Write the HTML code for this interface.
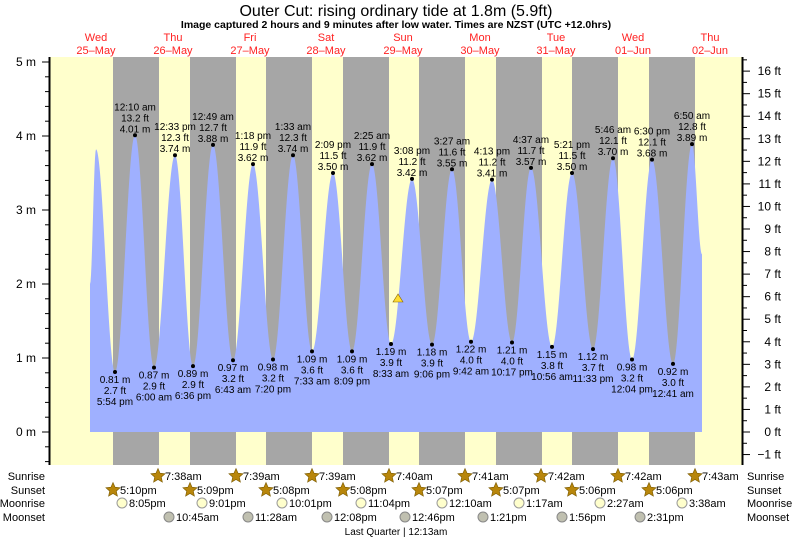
<!DOCTYPE html>
<html><head><meta charset="utf-8"><style>
body{margin:0;background:#fff;}
svg text{font-family:"Liberation Sans",sans-serif;}
</style></head><body>
<svg id="s" width="793" height="539" xmlns="http://www.w3.org/2000/svg">
<rect x="50" y="57" width="693" height="408" fill="#ffffcc"/>
<g fill="#a6a6a6">
<rect x="113" y="57" width="46" height="408"/><rect x="190" y="57" width="46" height="408"/>
<rect x="266" y="57" width="46" height="408"/><rect x="343" y="57" width="46" height="408"/>
<rect x="419" y="57" width="46" height="408"/><rect x="496" y="57" width="46" height="408"/>
<rect x="572" y="57" width="46" height="408"/><rect x="649" y="57" width="46" height="408"/>
</g>
<path id="tide" fill="#9fb0ff" d=""/>
<g id="lab" font-size="10" fill="#000" text-anchor="middle"></g>
<polygon points="398,294 393,302 403,302" fill="#ffdd33" stroke="#886600" stroke-width="0.6"/>
<line x1="49.5" y1="57" x2="49.5" y2="465" stroke="#000" stroke-width="2"/>
<line x1="742.5" y1="57" x2="742.5" y2="465" stroke="#000" stroke-width="2"/>
<g id="ax" font-size="12" fill="#000"></g>
<text x="396" y="16" font-size="16" text-anchor="middle">Outer Cut: rising  ordinary tide at 1.8m (5.9ft)</text>
<text x="396" y="28" font-size="10.5" font-weight="bold" text-anchor="middle">Image captured 2 hours and 9 minutes after low water. Times are NZST (UTC +12.0hrs)</text>
<g id="days" font-size="11" fill="#ff2222" text-anchor="middle"></g>
<g id="bot" font-size="11" fill="#000"></g>
<text x="396" y="535" font-size="10" text-anchor="middle">Last Quarter | 12:13am</text>
</svg>
<script>
var NS="http://www.w3.org/2000/svg";
function el(p,t,a,txt){var e=document.createElementNS(NS,t);for(var k in a)e.setAttribute(k,a[k]);if(txt!==undefined)e.textContent=txt;document.getElementById(p).appendChild(e);return e;}
function Y(h){return 432-74*h;}
var ex=[[90,2.0],[96,3.82],[115,0.81],[135,4.01],[154,0.87],[175,3.74],[193,0.89],[213,3.88],[233,0.97],[253,3.62],[273,0.98],[293,3.74],[312,1.09],[333,3.50],[352,1.09],[372,3.62],[391,1.19],[412,3.42],[432,1.18],[452,3.55],[471,1.22],[492,3.41],[512,1.21],[531,3.57],[552,1.15],[572,3.50],[593,1.12],[613,3.70],[632,0.98],[652,3.68],[673,0.92],[692,3.89],[702,2.4]];
var d="M90,432 ";
for(var i=0;i<ex.length-1;i++){var a=ex[i],b=ex[i+1];for(var x=a[0];x<=b[0];x+=0.5){var t=(x-a[0])/(b[0]-a[0]);var h=a[1]+(b[1]-a[1])*(1-Math.cos(Math.PI*t))/2;d+="L"+x+","+Y(h).toFixed(1)+" ";}}
d+="L702,432 Z";document.getElementById("tide").setAttribute("d",d);
var hi=[[135,"12:10 am","13.2 ft","4.01 m",4.01],[175,"12:33 pm","12.3 ft","3.74 m",3.74],[213,"12:49 am","12.7 ft","3.88 m",3.88],[253,"1:18 pm","11.9 ft","3.62 m",3.62],[293,"1:33 am","12.3 ft","3.74 m",3.74],[333,"2:09 pm","11.5 ft","3.50 m",3.50],[372,"2:25 am","11.9 ft","3.62 m",3.62],[412,"3:08 pm","11.2 ft","3.42 m",3.42],[452,"3:27 am","11.6 ft","3.55 m",3.55],[492,"4:13 pm","11.2 ft","3.41 m",3.41],[531,"4:37 am","11.7 ft","3.57 m",3.57],[572,"5:21 pm","11.5 ft","3.50 m",3.50],[613,"5:46 am","12.1 ft","3.70 m",3.70],[652,"6:30 pm","12.1 ft","3.68 m",3.68],[692,"6:50 am","12.8 ft","3.89 m",3.89]];
hi.forEach(function(p){var y=Y(p[4]);el("lab","circle",{cx:p[0],cy:y,r:2});el("lab","text",{x:p[0],y:y-25},p[1]);el("lab","text",{x:p[0],y:y-14},p[2]);el("lab","text",{x:p[0],y:y-3},p[3]);});
var lo=[[115,"0.81 m","2.7 ft","5:54 pm",0.81],[154,"0.87 m","2.9 ft","6:00 am",0.87],[193,"0.89 m","2.9 ft","6:36 pm",0.89],[233,"0.97 m","3.2 ft","6:43 am",0.97],[273,"0.98 m","3.2 ft","7:20 pm",0.98],[312,"1.09 m","3.6 ft","7:33 am",1.09],[352,"1.09 m","3.6 ft","8:09 pm",1.09],[391,"1.19 m","3.9 ft","8:33 am",1.19],[432,"1.18 m","3.9 ft","9:06 pm",1.18],[471,"1.22 m","4.0 ft","9:42 am",1.22],[512,"1.21 m","4.0 ft","10:17 pm",1.21],[552,"1.15 m","3.8 ft","10:56 am",1.15],[593,"1.12 m","3.7 ft","11:33 pm",1.12],[632,"0.98 m","3.2 ft","12:04 pm",0.98],[673,"0.92 m","3.0 ft","12:41 am",0.92]];
lo.forEach(function(p){var y=Y(p[4]);el("lab","circle",{cx:p[0],cy:y,r:2});el("lab","text",{x:p[0],y:y+11},p[1]);el("lab","text",{x:p[0],y:y+22},p[2]);el("lab","text",{x:p[0],y:y+33},p[3]);});
for(var m=-0.4;m<=5.01;m+=0.2){var y=Y(m),maj=Math.abs(m-Math.round(m))<0.01;el("ax","line",{x1:maj?42:45,y1:y,x2:49,y2:y,stroke:"#000","stroke-width":1});if(maj)el("ax","text",{x:36,y:y+4,"text-anchor":"end"},Math.round(m)+" m");}
for(var f=-1.5;f<=16.6;f+=0.5){var y=432-22.555*f,maj=Math.abs(f-Math.round(f))<0.01;if(y<57||y>465)continue;el("ax","line",{x1:743,y1:y,x2:maj?750:747,y2:y,stroke:"#000","stroke-width":1});if(maj)el("ax","text",{x:781,y:y+4,"text-anchor":"end"},(Math.round(f)<0?"\u22121":Math.round(f))+" ft");}
var days=[[96,"Wed","25\u2013May"],[173,"Thu","26\u2013May"],[250,"Fri","27\u2013May"],[326,"Sat","28\u2013May"],[403,"Sun","29\u2013May"],[480,"Mon","30\u2013May"],[556,"Tue","31\u2013May"],[633,"Wed","01\u2013Jun"],[710,"Thu","02\u2013Jun"]];
days.forEach(function(p){el("days","text",{x:p[0],y:41},p[1]);el("days","text",{x:p[0],y:54},p[2]);});
var rows=[["Sunrise",480],["Sunset",494],["Moonrise",507],["Moonset",521]];
rows.forEach(function(r){el("bot","text",{x:45,y:r[1],"text-anchor":"end"},r[0]);el("bot","text",{x:747,y:r[1]},r[0]);});
function star(cx,cy){var pts=[];for(var k=0;k<10;k++){var rr=k%2?3.5:7.5,a=-Math.PI/2+k*Math.PI/5;pts.push((cx+rr*Math.cos(a)).toFixed(1)+","+(cy+rr*Math.sin(a)).toFixed(1));}el("bot","polygon",{points:pts.join(" "),fill:"#b8860b",stroke:"#7a5a00","stroke-width":0.6});}
var sr=[[158,"7:38am"],[236,"7:39am"],[312,"7:39am"],[389,"7:40am"],[465,"7:41am"],[541,"7:42am"],[618,"7:42am"],[695,"7:43am"]];
sr.forEach(function(p){star(p[0],476);el("bot","text",{x:p[0]+7,y:480},p[1]);});
var ss=[[113,"5:10pm"],[190,"5:09pm"],[266,"5:08pm"],[343,"5:08pm"],[419,"5:07pm"],[496,"5:07pm"],[572,"5:06pm"],[649,"5:06pm"]];
ss.forEach(function(p){star(p[0],490);el("bot","text",{x:p[0]+7,y:494},p[1]);});
var mr=[[122,"8:05pm"],[202,"9:01pm"],[282,"10:01pm"],[361,"11:04pm"],[442,"12:10am"],[519,"1:17am"],[600,"2:27am"],[682,"3:38am"]];
mr.forEach(function(p){el("bot","circle",{cx:p[0],cy:503,r:5,fill:"#ffffcc",stroke:"#999"});el("bot","text",{x:p[0]+7,y:507},p[1]);});
var ms=[[169,"10:45am"],[248,"11:28am"],[327,"12:08pm"],[405,"12:46pm"],[483,"1:21pm"],[562,"1:56pm"],[640,"2:31pm"]];
ms.forEach(function(p){el("bot","circle",{cx:p[0],cy:517,r:5,fill:"#c0c0b0",stroke:"#888"});el("bot","text",{x:p[0]+7,y:521},p[1]);});
</script>
</body></html>
